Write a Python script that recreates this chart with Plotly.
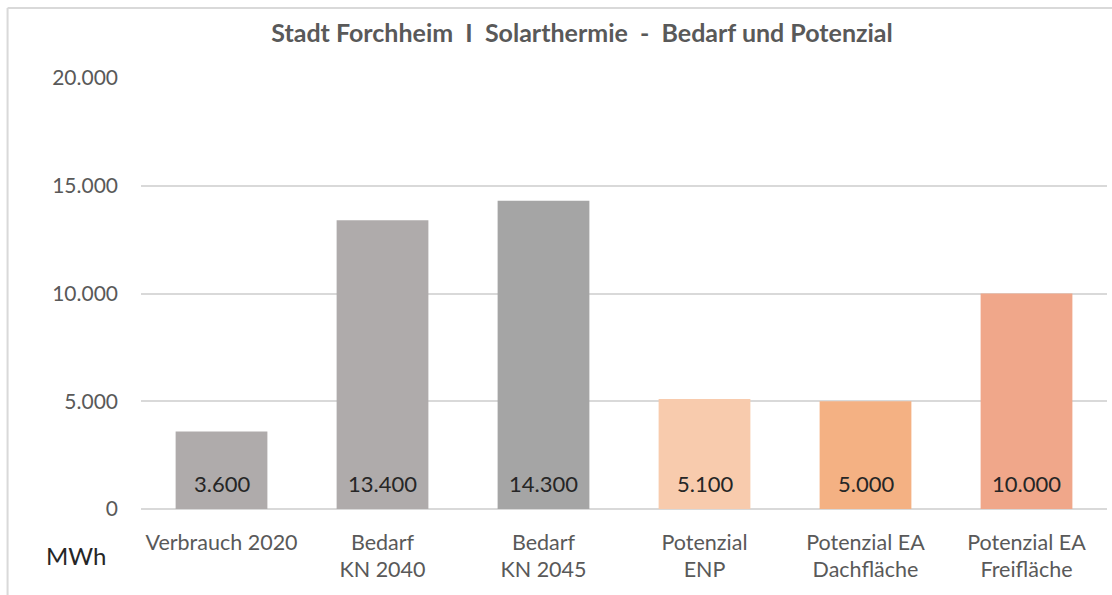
import plotly.graph_objects as go

categories = ["Verbrauch 2020", "Bedarf<br>KN 2040", "Bedarf<br>KN 2045",
              "Potenzial<br>ENP", "Potenzial EA<br>Dachfläche", "Potenzial EA<br>Freifläche"]
values = [3600, 13400, 14300, 5100, 5000, 10000]
bar_colors = ["#AFABAB", "#AFABAB", "#A5A5A5", "#F8CBAD", "#F4B183", "#F0A78A"]
y_ticks = [0, 5000, 10000, 15000, 20000]

FONT = "Lato"
W, H = 1112, 595
ML, MR, MT, MB = 140.5, 5, 78, 86
NB = "\u00a0"

fig = go.Figure()
fig.add_trace(go.Bar(
    x=categories, y=values,
    marker=dict(color=bar_colors, line=dict(width=0)),
    width=0.57,
    hoverinfo="x+y",
))

def fmt(v):
    return f"{v:,}".replace(",", ".")

annotations = []
for c, v in zip(categories, values):
    annotations.append(dict(
        x=c, y=0, xref="x", yref="y", text=fmt(v), showarrow=False,
        yanchor="middle", yshift=26,
        font=dict(family=FONT, size=22, color="#262626"),
    ))
annotations.append(dict(
    x=0, y=0, xref="paper", yref="y", text="MWh", showarrow=False,
    xanchor="center", yanchor="middle", xshift=-65.5, yshift=-46,
    font=dict(family=FONT, size=24, color="#262626"),
))

title_text = f"Stadt Forchheim{NB}{NB}I{NB}{NB}Solarthermie{NB}{NB}-{NB}{NB}Bedarf und Potenzial"

fig.update_layout(
    width=W, height=H,
    margin=dict(l=ML, r=MR, t=MT, b=MB, pad=0),
    paper_bgcolor="white", plot_bgcolor="white",
    separators=",.",
    showlegend=False,
    title=dict(
        text=f"<b>{title_text}</b>",
        x=582 / W, xanchor="center", y=1 - 33 / H, yanchor="middle",
        font=dict(family=FONT, size=25, color="#595959"),
    ),
    xaxis=dict(
        showgrid=False, showline=False, zeroline=False, ticks="",
        tickfont=dict(family=FONT, size=21.5, color="#595959"),
        ticklabelstandoff=18,
    ),
    yaxis=dict(
        range=[0, 20000], tickvals=y_ticks, tickformat=",d",
        showgrid=True, gridcolor="#D9D9D9", gridwidth=1.5,
        zeroline=True, zerolinecolor="#D9D9D9", zerolinewidth=1.5,
        showline=False, ticks="",
        tickfont=dict(family=FONT, size=21, color="#595959"),
        ticklabelstandoff=22,
    ),
    annotations=annotations,
    shapes=[
        dict(type="line", xref="paper", yref="paper",
             x0=(7 - ML) / (W - ML - MR), x1=(7 - ML) / (W - ML - MR),
             y0=-MB / (H - MT - MB), y1=(H - MB - 8) / (H - MT - MB),
             line=dict(color="#D9D9D9", width=2)),
        dict(type="line", xref="paper", yref="paper",
             x0=(7 - ML) / (W - ML - MR), x1=(W - ML) / (W - ML - MR),
             y0=(H - MB - 8) / (H - MT - MB), y1=(H - MB - 8) / (H - MT - MB),
             line=dict(color="#D9D9D9", width=2)),
    ],
)

fig.write_html("out.html", config={"displayModeBar": False},
               post_script="document.body.style.margin='0';document.body.style.overflow='hidden';")
